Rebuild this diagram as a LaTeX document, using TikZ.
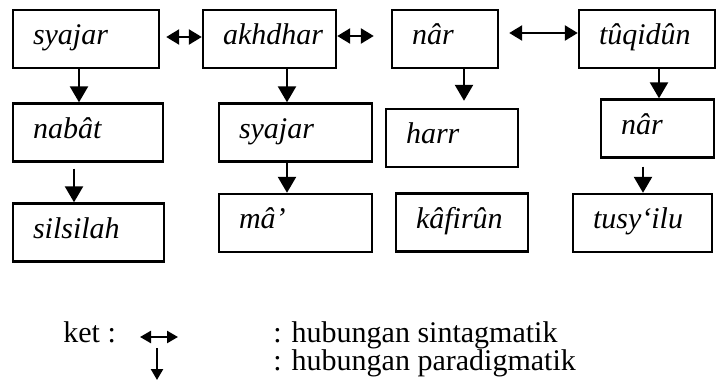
\documentclass[tikz,border=0pt]{standalone}
\usepackage{fontspec}
\setmainfont{Liberation Serif}
\usetikzlibrary{arrows.meta,positioning}

\begin{document}
\begin{tikzpicture}[x=0.5pt, y=-0.5pt,
  kotak/.style = {draw, line width=1.2pt, shape = rectangle, minimum height = 29pt, inner xsep = 10pt, align = left, text height = 1.5ex, text depth = .25ex, font = \fontsize{15}{18}\selectfont\itshape},
  panah/.style = {line width=1.2pt, -{Triangle[length=8pt, width=9pt]}},
  duapanah/.style = {line width=1.2pt, {Triangle[length=6.5pt, width=7.5pt]}-{Triangle[length=6.5pt, width=7.5pt]}},
  ket/.style = {anchor = base west, inner sep = 0pt, font = \fontsize{15}{18}\selectfont}]
\useasboundingbox (0,0) rectangle (717,380);
\node[kotak, text width = 53pt]   (syajar)   at (86,39)    {syajar};
\node[kotak, text width = 46.5pt] (akhdhar)  at (269.5,39) {akhdhar};
\node[kotak, text width = 33pt]   (nar)      at (445,39)   {nâr};
\node[kotak, text width = 48pt]   (tuqidun)  at (647,39)   {tûqidûn};
\node[kotak, text width = 55pt]   (nabat)    at (88,132.5)   {nabât};
\node[kotak, text width = 56.5pt] (syajarb)  at (295.5,132.5) {syajar};
\node[kotak, text width = 46pt]   (harr)     at (452,138)    {harr};
\node[kotak, text width = 36.5pt] (narb)     at (657.5,128.5) {nâr};
\node[kotak, text width = 55.5pt] (silsilah) at (88.5,232.5) {silsilah};
\node[kotak, text width = 56.5pt] (ma)       at (295.5,223)  {mâ’};
\node[kotak, text width = 46pt]   (kafirun)  at (462,222.5)  {kâfirûn};
\node[kotak, text width = 49.5pt] (tusyilu)  at (642.5,223)  {tusy‘ilu};

\draw[duapanah, shorten <= 3pt] (syajar.east |- 0,37) -- (akhdhar.west |- 0,37);
\draw[duapanah, shorten > = 8.5pt] (akhdhar.east |- 0,36) -- (nar.west |- 0,36);
\draw[duapanah, shorten <= 5pt] (nar.east |- 0,33) -- (tuqidun.west |- 0,33);

\draw[panah] (syajar.south -| 79,0) -- (nabat.north -| 79,0);
\draw[panah, shorten <= 3pt] (nabat.south -| 74,0) -- (silsilah.north -| 74,0);
\draw[panah] (akhdhar.south -| 287,0) -- (syajarb.north -| 287,0);
\draw[panah] (syajarb.south -| 287,0) -- (ma.north -| 287,0);
\draw[panah, shorten > = 3.5pt] (nar.south -| 464,0) -- (harr.north -| 464,0);
\draw[panah] (tuqidun.south -| 659,0) -- (narb.north -| 659,0);
\draw[panah, shorten <= 4pt] (narb.south -| 643,0) -- (tusyilu.north -| 643,0);

\node[ket] (keterangan) at (63,342) {ket :};
\coordinate (s1) at (140,337);
\coordinate (s2) at (178,337);
\coordinate (p1) at (157,348);
\coordinate (p2) at (157,380);
\draw[line width=1.2pt, {Triangle[length=5.5pt, width=6pt]}-{Triangle[length=5.5pt, width=6pt]}] (s1) -- (s2);
\draw[line width=1.2pt, -{Triangle[length=5.5pt, width=6pt]}] (p1) -- (p2);
\node[ket] (sintagmatik) at (273,342) {: hubungan sintagmatik};
\node[ket] (paradigmatik) at (273,370) {: hubungan paradigmatik};
\end{tikzpicture}
\end{document}
